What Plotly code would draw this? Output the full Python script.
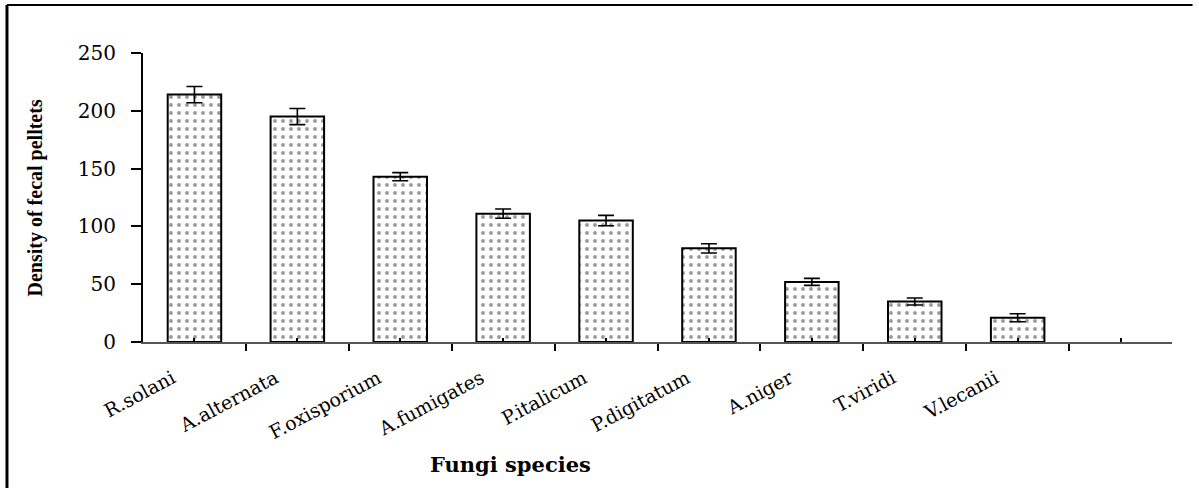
import plotly.graph_objects as go

species = ["R.solani", "A.alternata", "F.oxisporium", "A.fumigates", "P.italicum",
           "P.digitatum", "A.niger", "T.viridi", "V.lecanii"]
density = [214, 195, 143, 111, 105, 81, 52, 35, 21]
errors = [7, 7, 3.5, 4, 4.5, 4, 3, 3, 3.5]
y_ticks = [0, 50, 100, 150, 200, 250]

positions = list(range(len(species)))
n_slots = len(species) + 1  # one empty slot at the end of the axis

fig = go.Figure()
fig.add_trace(go.Bar(
    x=positions,
    y=density,
    width=0.52,
    marker=dict(
        color="white",
        line=dict(color="black", width=2),
        pattern=dict(shape=".", fgcolor="#333333", bgcolor="white", size=8, solidity=0.18),
    ),
    error_y=dict(type="data", array=errors, visible=True, color="black", thickness=1.6, width=8),
    showlegend=False,
    hoverinfo="skip",
))

fig.update_layout(
    width=1199, height=488,
    margin=dict(l=143, r=27, t=53, b=146),
    paper_bgcolor="white", plot_bgcolor="white",
    font=dict(family="DejaVu Serif", color="black"),
    bargap=0.48,
)

fig.update_xaxes(
    range=[-0.5, n_slots - 0.5],
    tickmode="array",
    tickvals=list(range(n_slots)),
    ticktext=species + [""],
    tickangle=-28,
    tickfont=dict(family="DejaVu Serif", size=19, color="black"),
    ticks="inside", ticklen=4, tickwidth=2, tickcolor="black",
    ticklabelstandoff=16,
    ticklabelshift=-22,
    minor=dict(tickmode="linear", tick0=-0.5, dtick=1, ticks="outside",
               ticklen=7, tickwidth=2, tickcolor="black"),
    showline=True, linecolor="#555555", linewidth=2,
    showgrid=False, zeroline=False,
)

fig.update_yaxes(
    range=[0, 250],
    tickmode="array",
    tickvals=y_ticks,
    ticktext=[str(v) for v in y_ticks],
    tickfont=dict(family="DejaVu Serif", size=20, color="black"),
    ticks="outside", ticklen=10, tickwidth=1.5, tickcolor="black",
    ticklabelstandoff=11,
    showline=True, linecolor="black", linewidth=2,
    showgrid=False, zeroline=False,
)

fig.add_annotation(
    text="<b>Density of fecal pelltets</b>",
    textangle=-90, xref="paper", yref="paper",
    x=-0.104, y=0.5, xanchor="center", yanchor="middle",
    showarrow=False,
    font=dict(family="Liberation Serif", size=20, color="black"),
)
fig.add_annotation(
    text="<b>Fungi species</b>",
    xref="paper", yref="paper",
    x=0.357, y=-0.425, xanchor="center", yanchor="middle",
    showarrow=False,
    font=dict(family="DejaVu Serif", size=21, color="black"),
)

# outer frame (left and top edges)
fig.add_shape(type="line", xref="paper", yref="paper",
              x0=-0.1322, x1=-0.1322, y0=1.166, y1=-0.6,
              line=dict(color="black", width=3))
fig.add_shape(type="line", xref="paper", yref="paper",
              x0=-0.1322, x1=1.02, y0=1.166, y1=1.166,
              line=dict(color="black", width=2))

fig.write_html("out.html", config={"displayModeBar": False},
               post_script="document.body.style.margin='0';")
